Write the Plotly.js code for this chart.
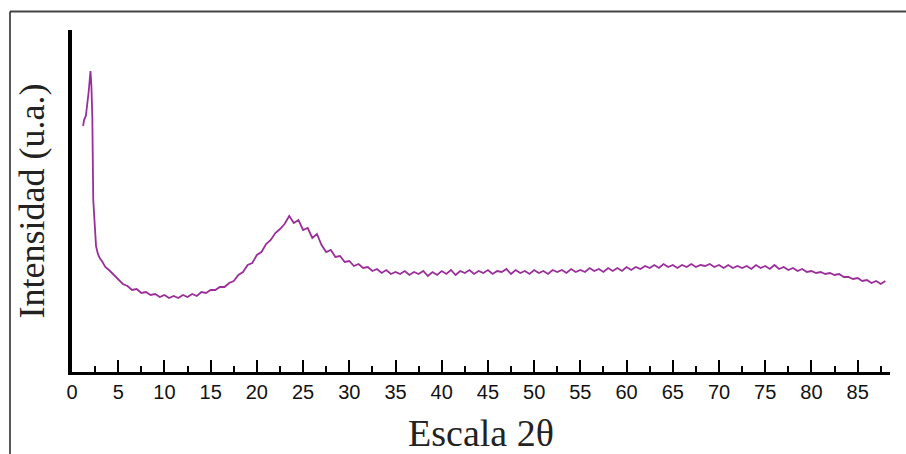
<!DOCTYPE html>
<html>
<head>
<meta charset="utf-8">
<script src="https://cdn.plot.ly/plotly-3.0.1.min.js"></script>
<style>
  html, body { margin: 0; padding: 0; background: #ffffff; }
  #chart { width: 906px; height: 454px; }
</style>
</head>
<body>
<div id="chart"></div>
<script>
// 2θ (degrees)
var twoTheta = [
  1.2, 1.3, 1.5, 1.6, 1.7, 1.8, 1.9, 2.0, 2.1, 2.2, 2.3, 2.4, 2.5, 2.6, 2.8, 3.0, 3.3, 3.6, 4.0, 4.5, 5.0,
  5.5, 6.0, 6.5, 7.0, 7.5, 8.0, 8.5, 9.0, 9.5, 10.0, 10.5, 11.0, 11.5, 12.0, 12.5, 13.0, 13.5, 14.0, 14.5, 15.0,
  15.5, 16.0, 16.5, 17.0, 17.5, 18.0, 18.5, 19.0, 19.5, 20.0, 20.5, 21.0, 21.5, 22.0, 22.5, 23.0, 23.5, 24.0, 24.5, 25.0,
  25.5, 26.0, 26.5, 27.0, 27.5, 28.0, 28.5, 29.0, 29.5, 30.0, 30.5, 31.0, 31.5, 32.0, 32.5, 33.0, 33.5, 34.0, 34.5, 35.0,
  35.5, 36.0, 36.5, 37.0, 37.5, 38.0, 38.5, 39.0, 39.5, 40.0, 40.5, 41.0, 41.5, 42.0, 42.5, 43.0, 43.5, 44.0, 44.5, 45.0,
  45.5, 46.0, 46.5, 47.0, 47.5, 48.0, 48.5, 49.0, 49.5, 50.0, 50.5, 51.0, 51.5, 52.0, 52.5, 53.0, 53.5, 54.0, 54.5, 55.0,
  55.5, 56.0, 56.5, 57.0, 57.5, 58.0, 58.5, 59.0, 59.5, 60.0, 60.5, 61.0, 61.5, 62.0, 62.5, 63.0, 63.5, 64.0, 64.5, 65.0,
  65.5, 66.0, 66.5, 67.0, 67.5, 68.0, 68.5, 69.0, 69.5, 70.0, 70.5, 71.0, 71.5, 72.0, 72.5, 73.0, 73.5, 74.0, 74.5, 75.0,
  75.5, 76.0, 76.5, 77.0, 77.5, 78.0, 78.5, 79.0, 79.5, 80.0, 80.5, 81.0, 81.5, 82.0, 82.5, 83.0, 83.5, 84.0, 84.5, 85.0,
  85.5, 86.0, 86.5, 87.0, 87.5, 88.0
];
// Intensidad (u.a.)
var intensity = [
  246, 252, 256, 268, 272, 280, 292, 301, 286, 254, 172, 154, 132, 126, 118, 114, 110, 105, 102, 97, 92,
  88, 86, 82, 83, 79, 80, 77, 78, 75, 77, 74, 76, 74, 77, 75, 78, 76, 80, 79, 82,
  82, 85, 85, 89, 91, 97, 100, 107, 109, 117, 120, 128, 132, 139, 143, 148, 156, 149, 152, 142,
  144, 134, 138, 127, 120, 122, 115, 116, 110, 111, 106, 108, 104, 105, 101, 103, 99, 102, 98, 100,
  98, 101, 97, 100, 98, 101, 96, 100, 97, 101, 98, 102, 97, 101, 99, 102, 98, 101, 99, 102,
  98, 101, 100, 103, 98, 102, 99, 101, 98, 102, 99, 101, 98, 102, 100, 102, 99, 103, 100, 102,
  100, 104, 101, 103, 100, 104, 101, 104, 101, 105, 102, 105, 103, 106, 104, 107, 104, 108, 105, 107,
  104, 107, 105, 108, 105, 107, 106, 108, 105, 107, 104, 107, 104, 106, 104, 106, 103, 107, 104, 106,
  103, 107, 103, 105, 102, 104, 101, 103, 100, 101, 99, 100, 98, 99, 97, 98, 95, 95, 93, 94,
  91, 92, 89, 91, 88, 91
];
var xTickVals = [0, 5, 10, 15, 20, 25, 30, 35, 40, 45, 50, 55, 60, 65, 70, 75, 80, 85];
var xTickText = ["0", "5", "10", "15", "20", "25", "30", "35", "40", "45", "50", "55", "60", "65", "70", "75", "80", "85"];

var trace = {
  x: twoTheta,
  y: intensity,
  type: 'scatter',
  mode: 'lines',
  line: { color: '#9a2f9a', width: 1.8 },
  hoverinfo: 'x+y'
};

var layout = {
  width: 906,
  height: 454,
  margin: { l: 72, r: 16, t: 30, b: 82 },
  paper_bgcolor: '#ffffff',
  plot_bgcolor: '#ffffff',
  showlegend: false,
  xaxis: {
    range: [0, 88.5],
    tickvals: xTickVals,
    ticktext: xTickText,
    ticks: 'inside',
    ticklen: 12,
    tickwidth: 2,
    tickcolor: '#000',
    minor: { dtick: 2.5, tick0: 0, ticks: 'inside', ticklen: 6, tickwidth: 2, tickcolor: '#000', showgrid: false },
    showline: true,
    linecolor: '#000',
    linewidth: 3,
    showgrid: false,
    zeroline: false,
    tickfont: { family: 'Liberation Sans, Arial, sans-serif', size: 20, color: '#111' },
    title: { text: 'Escala 2θ', font: { family: 'Liberation Serif, Times New Roman, serif', size: 38, color: '#222' }, standoff: 21 },
    automargin: false
  },
  yaxis: {
    range: [0, 342],
    showline: true,
    linecolor: '#000',
    linewidth: 4,
    ticks: '',
    showticklabels: false,
    showgrid: false,
    zeroline: false,
    title: { text: 'Intensidad (u.a.)', font: { family: 'Liberation Serif, Times New Roman, serif', size: 36, color: '#222' }, standoff: 13 },
    automargin: false
  },
  shapes: [
    { type: 'line', xref: 'paper', yref: 'paper', x0: -0.0758, x1: 1.03, y0: 1.054, y1: 1.054, line: { color: '#444', width: 2 } },
    { type: 'line', xref: 'paper', yref: 'paper', x0: -0.0758, x1: -0.0758, y0: 1.054, y1: -0.25, line: { color: '#222', width: 1.5 } }
  ]
};

Plotly.newPlot('chart', [trace], layout, { displayModeBar: false, staticPlot: true });
</script>
</body>
</html>
